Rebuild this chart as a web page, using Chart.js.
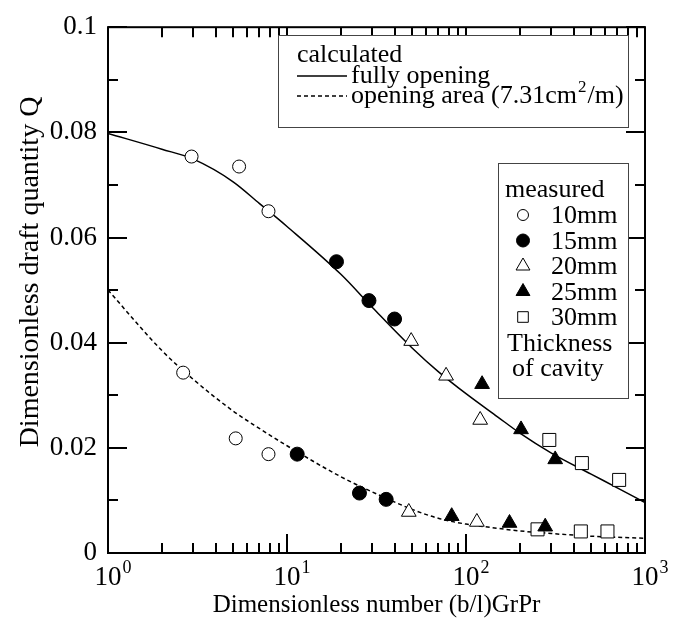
<!DOCTYPE html>
<html>
<head>
<meta charset="utf-8">
<script src="https://cdn.jsdelivr.net/npm/chart.js@4.4.1/dist/chart.umd.min.js"></script>
<style>
  html, body { margin: 0; padding: 0; background: #fff; }
</style>
</head>
<body>
<canvas id="canvas" width="685" height="619"></canvas>
<script>
// calculated curves
let xCalc     = [1, 2, 3, 5, 7, 10, 20, 30, 50, 70, 100, 150, 200, 300, 500, 700, 1000];
let qFully    = [0.0798, 0.0768, 0.0749, 0.0706, 0.0665, 0.0621, 0.0530, 0.0467, 0.0390, 0.0345, 0.0303, 0.0259, 0.0228, 0.0190, 0.0150, 0.0124, 0.0096];
let qOpening  = [0.0500, 0.0385, 0.0330, 0.0270, 0.0237, 0.0204, 0.0145, 0.0116, 0.0083, 0.0066, 0.0055, 0.0047, 0.0042, 0.0037, 0.0032, 0.0030, 0.0028];

// measured points, one pair of lists per cavity thickness
let x10mm = [2.93, 5.40, 7.88, 2.63, 5.17, 7.88];
let q10mm = [0.0754, 0.0735, 0.0650, 0.0343, 0.0218, 0.0188];
let x15mm = [18.9, 28.7, 39.9, 11.4, 25.4, 35.8];
let q15mm = [0.0554, 0.0480, 0.0445, 0.0188, 0.0114, 0.0102];
let x20mm = [49.4, 77.4, 120, 47.9, 115];
let q20mm = [0.0403, 0.0337, 0.0253, 0.0078, 0.0059];
let x25mm = [123, 203, 315, 83.2, 175, 277];
let q25mm = [0.0321, 0.0235, 0.0178, 0.0070, 0.0057, 0.0050];
let x30mm = [292, 444, 717, 251, 438, 617];
let q30mm = [0.0215, 0.0171, 0.0139, 0.0045, 0.0041, 0.0041];

// axis ticks and labels
let yTicks  = [0, 0.01, 0.02, 0.03, 0.04, 0.05, 0.06, 0.07, 0.08, 0.09, 0.1];
let yLabels = ['0', '', '0.02', '', '0.04', '', '0.06', '', '0.08', '', '0.1'];
let xExponents = [0, 1, 2, 3];

let serif = 'Liberation Serif';

function pairs(xs, ys) {
  let out = [];
  for (let i = 0; i < xs.length; i++) out.push({x: xs[i], y: ys[i]});
  return out;
}

// frame, inward ticks, x labels with exponents, titles and the two legend boxes
let framePlugin = {
  id: 'frame',
  afterDraw(chart) {
    let ctx = chart.ctx;
    let a = chart.chartArea;
    let xs = chart.scales.x, ys = chart.scales.y;
    ctx.save();
    ctx.strokeStyle = '#000';
    ctx.lineWidth = 2;
    ctx.strokeRect(a.left, a.top, a.right - a.left, a.bottom - a.top);

    // y ticks on left and right
    ctx.beginPath();
    yTicks.forEach(function(v, i) {
      let py = Math.round(ys.getPixelForValue(v));
      let len = (i % 2 === 0) ? 19 : 10;
      ctx.moveTo(a.left, py); ctx.lineTo(a.left + len, py);
      ctx.moveTo(a.right, py); ctx.lineTo(a.right - len, py);
    });
    // x ticks on bottom and top
    [1, 10, 100].forEach(function(d) {
      for (let m = 1; m <= 9; m++) {
        let px = Math.round(xs.getPixelForValue(d * m));
        let len = (m === 1) ? 19 : 10;
        ctx.moveTo(px, a.bottom); ctx.lineTo(px, a.bottom - len);
        ctx.moveTo(px, a.top); ctx.lineTo(px, a.top + len);
      }
    });
    ctx.stroke();

    // x tick labels 10^n
    ctx.fillStyle = '#000';
    ctx.textBaseline = 'alphabetic';
    xExponents.forEach(function(e) {
      let px = xs.getPixelForValue(Math.pow(10, e));
      ctx.font = '27px "' + serif + '"';
      ctx.textAlign = 'center';
      ctx.fillText('10', px, 585);
      let w = ctx.measureText('10').width;
      ctx.font = '18px "' + serif + '"';
      ctx.textAlign = 'left';
      ctx.fillText(String(e), px + w / 2 + 1, 573);
    });

    // axis titles
    ctx.font = '25px "' + serif + '"';
    ctx.textAlign = 'center';
    ctx.fillText('Dimensionless number (b/l)GrPr', (a.left + a.right) / 2, 612);
    ctx.save();
    ctx.font = '28px "' + serif + '"';
    ctx.translate(38, 272);
    ctx.rotate(-Math.PI / 2);
    ctx.fillText('Dimensionless draft quantity Q', 0, 0);
    ctx.restore();

    // legend box: calculated
    ctx.fillStyle = '#fff';
    ctx.fillRect(278, 35, 350, 92);
    ctx.strokeStyle = '#444';
    ctx.lineWidth = 1;
    ctx.strokeRect(278.5, 35.5, 350, 92);
    ctx.fillStyle = '#000';
    ctx.textAlign = 'left';
    ctx.font = '26px "' + serif + '"';
    ctx.fillText('calculated', 297, 62);
    ctx.strokeStyle = '#000';
    ctx.lineWidth = 1.5;
    ctx.beginPath(); ctx.moveTo(297, 76); ctx.lineTo(347, 76); ctx.stroke();
    ctx.fillText('fully opening', 351, 83);
    ctx.setLineDash([4, 3]);
    ctx.beginPath(); ctx.moveTo(297, 96); ctx.lineTo(347, 96); ctx.stroke();
    ctx.setLineDash([]);
    let t1 = 'opening area (7.31cm';
    ctx.fillText(t1, 351, 103);
    let w1 = ctx.measureText(t1).width;
    ctx.font = '17px "' + serif + '"';
    ctx.fillText('2', 351 + w1 + 1, 92);
    let w2 = ctx.measureText('2').width;
    ctx.font = '26px "' + serif + '"';
    ctx.fillText('/m)', 351 + w1 + w2 + 2, 103);

    // legend box: measured
    ctx.fillStyle = '#fff';
    ctx.fillRect(498, 163, 130, 235);
    ctx.strokeStyle = '#444';
    ctx.lineWidth = 1;
    ctx.strokeRect(498.5, 163.5, 130, 235);
    ctx.fillStyle = '#000';
    ctx.fillText('measured', 505, 197);
    let base = [223, 248.5, 274, 299.5, 325];
    chart.data.datasets.forEach(function(ds) {
      if (ds.legendRow === undefined) return;
      let yy = base[ds.legendRow];
      ctx.fillStyle = ds.backgroundColor;
      ctx.strokeStyle = '#000';
      ctx.lineWidth = 1;
      Chart.helpers.drawPoint(ctx, {pointStyle: ds.pointStyle, radius: ds.legendRadius, rotation: 0, borderWidth: 1}, 523, yy - 8);
      ctx.fillStyle = '#000';
      ctx.fillText(ds.label, 551, yy);
    });
    ctx.fillText('Thickness', 507, 351);
    ctx.fillText('of cavity', 512, 376);
    ctx.restore();
  }
};

let options = {
  type: 'scatter',
  data: {
    datasets: [
      { label: 'fully opening', data: pairs(xCalc, qFully), showLine: true, pointRadius: 0,
        borderColor: '#000', borderWidth: 1.5, cubicInterpolationMode: 'monotone', order: 2 },
      { label: 'opening area', data: pairs(xCalc, qOpening), showLine: true, pointRadius: 0,
        borderColor: '#000', borderWidth: 1.5, borderDash: [4, 3], cubicInterpolationMode: 'monotone', order: 2 },
      { label: '10mm', data: pairs(x10mm, q10mm), pointStyle: 'circle', pointRadius: 6.5,
        backgroundColor: '#fff', borderColor: '#000', borderWidth: 1, legendRow: 0, legendRadius: 5.5, order: 1 },
      { label: '15mm', data: pairs(x15mm, q15mm), pointStyle: 'circle', pointRadius: 7,
        backgroundColor: '#000', borderColor: '#000', borderWidth: 1, legendRow: 1, legendRadius: 6.5, order: 1 },
      { label: '20mm', data: pairs(x20mm, q20mm), pointStyle: 'triangle', pointRadius: 8.5,
        backgroundColor: '#fff', borderColor: '#000', borderWidth: 1, legendRow: 2, legendRadius: 8, order: 1 },
      { label: '25mm', data: pairs(x25mm, q25mm), pointStyle: 'triangle', pointRadius: 8.5,
        backgroundColor: '#000', borderColor: '#000', borderWidth: 1, legendRow: 3, legendRadius: 8, order: 1 },
      { label: '30mm', data: pairs(x30mm, q30mm), pointStyle: 'rect', pointRadius: 9.2,
        backgroundColor: '#fff', borderColor: '#000', borderWidth: 1, legendRow: 4, legendRadius: 7.5, order: 1 }
    ]
  },
  options: {
    responsive: false,
    animation: false,
    devicePixelRatio: 1,
    layout: { padding: { top: 22, right: 40, left: 0, bottom: 0 } },
    plugins: { legend: { display: false }, tooltip: { enabled: false } },
    scales: {
      x: {
        type: 'logarithmic', min: 1, max: 1000,
        grid: { display: false, drawTicks: false },
        border: { display: false },
        ticks: { display: false },
        afterFit: function(s) { s.height = 66; }
      },
      y: {
        min: 0, max: 0.1,
        grid: { display: false, drawTicks: false },
        border: { display: false },
        afterBuildTicks: function(s) { s.ticks = yTicks.map(function(v) { return {value: v}; }); },
        ticks: {
          autoSkip: false, padding: 11, color: '#000',
          font: { family: serif, size: 27 },
          callback: function(v, i) { return yLabels[i]; }
        },
        afterFit: function(s) { s.width = 108; }
      }
    }
  },
  plugins: [framePlugin]
};

let chart = new Chart(document.getElementById('canvas'), options);
</script>
</body>
</html>
